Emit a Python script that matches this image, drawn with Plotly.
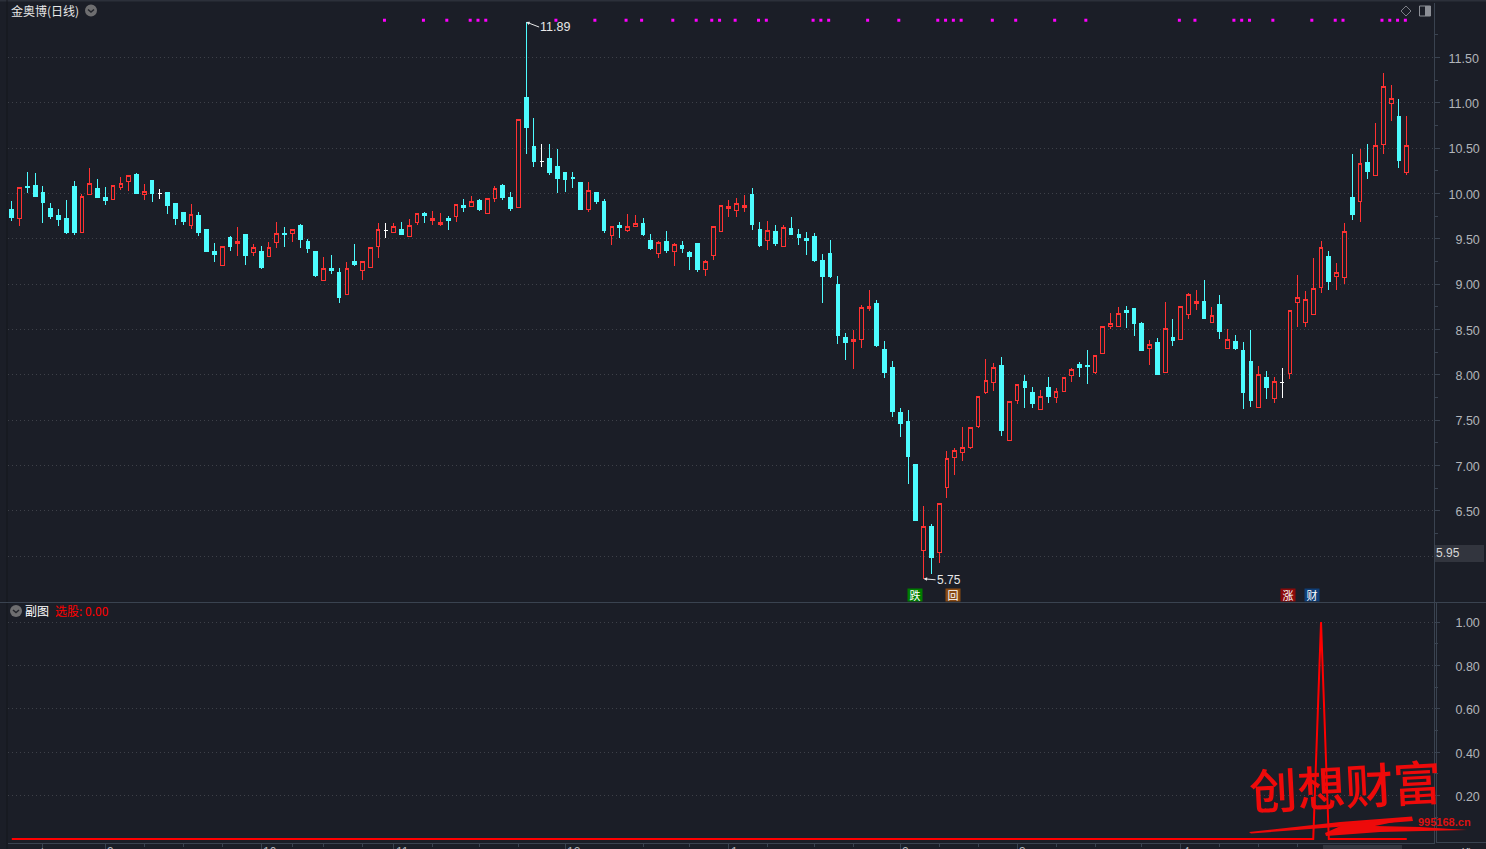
import plotly.graph_objects as go

W, H = 1486, 849
BG = "#1b1e27"
AXIS = "#3a4350"
GRID = "#3e4149"
TICKC = "#b2b5ba"
CYAN = "#4dfcff"
RED = "#ff3232"
CJK = "Noto Sans CJK SC"
LAT = "Liberation Sans"

opens = [
    9.82,9.72,10.08,10.09,10.01,9.83,9.76,9.72,10.08,9.57,
    9.99,10.05,9.96,9.93,10.06,10.13,10.21,9.99,10.14,10.00,
    10.01,9.89,9.79,9.65,9.76,9.60,9.36,9.21,9.51,9.45,
    9.55,9.35,9.36,9.30,9.46,9.56,9.56,9.65,9.47,9.36,
    9.04,9.17,9.13,8.88,9.25,9.15,9.18,9.41,9.59,9.57,
    9.60,9.53,9.68,9.78,9.70,9.66,9.72,9.74,9.87,9.86,
    9.92,9.78,9.94,10.09,9.95,9.84,11.06,10.52,10.35,10.39,
    10.30,10.23,10.18,10.12,9.82,10.01,9.91,9.54,9.65,9.59,
    9.63,9.67,9.48,9.34,9.47,9.36,9.43,9.35,9.45,9.16,
    9.32,9.58,9.83,9.81,9.84,9.99,9.60,9.48,9.58,9.42,
    9.61,9.55,9.50,9.53,9.26,9.34,9.00,8.41,8.37,8.39,
    8.73,8.79,8.28,8.08,7.58,7.48,7.01,6.06,6.33,6.04,
    6.76,7.09,7.14,7.20,7.43,7.80,7.91,8.10,7.28,7.72,
    7.93,7.81,7.62,7.86,7.75,7.82,7.99,8.11,8.10,8.03,
    8.24,8.53,8.53,8.71,8.73,8.56,8.29,8.36,8.02,8.41,
    8.39,8.66,8.79,8.81,8.58,8.78,8.29,8.37,8.27,8.15,
    7.64,7.97,7.74,7.92,8.01,8.80,8.58,8.66,8.96,9.30,
    9.08,9.07,9.96,9.91,10.34,10.20,10.54,10.99,10.85,10.23,
]
highs = [
    9.92,10.07,10.24,10.22,10.08,9.89,9.83,9.93,10.14,9.99,
    10.28,10.16,10.07,10.09,10.18,10.20,10.22,10.10,10.15,10.05,
    10.01,9.89,9.79,9.88,9.79,9.60,9.45,9.42,9.53,9.63,
    9.55,9.44,9.42,9.46,9.68,9.63,9.61,9.66,9.50,9.36,
    9.30,9.32,9.18,9.24,9.44,9.25,9.40,9.67,9.67,9.67,
    9.69,9.72,9.78,9.80,9.81,9.78,9.75,9.88,9.94,9.97,
    9.94,9.94,10.08,10.10,10.02,10.81,11.89,10.83,10.55,10.55,
    10.49,10.23,10.24,10.12,10.13,10.02,9.94,9.64,9.69,9.77,
    9.76,9.73,9.55,9.47,9.59,9.45,9.48,9.37,9.45,9.27,
    9.64,9.87,9.93,9.95,9.98,10.06,9.69,9.70,9.65,9.65,
    9.74,9.61,9.58,9.56,9.33,9.49,9.09,8.46,8.49,8.77,
    8.94,8.83,8.37,8.15,7.63,7.61,7.02,6.55,6.35,6.59,
    7.16,7.19,7.42,7.42,7.77,8.17,8.13,8.20,7.71,7.90,
    8.00,7.86,7.83,7.97,7.85,7.97,8.07,8.14,8.27,8.21,
    8.54,8.68,8.75,8.76,8.73,8.58,8.38,8.41,8.80,8.61,
    8.75,8.90,8.93,9.05,8.75,8.88,8.51,8.44,8.36,8.49,
    8.10,8.04,7.97,8.08,8.71,9.10,8.92,9.29,9.48,9.37,
    9.23,9.67,10.44,10.49,10.55,10.78,11.33,11.20,11.04,10.85,
]
lows = [
    9.70,9.64,10.01,9.96,9.67,9.72,9.64,9.55,9.54,9.57,
    9.99,9.95,9.87,9.93,10.04,10.03,10.00,9.93,9.90,9.94,
    9.77,9.65,9.65,9.61,9.53,9.35,9.24,9.21,9.36,9.31,
    9.21,9.31,9.17,9.30,9.40,9.41,9.46,9.40,9.34,9.08,
    9.04,9.11,8.79,8.88,9.20,9.04,9.18,9.29,9.51,9.57,
    9.55,9.53,9.65,9.67,9.65,9.64,9.60,9.69,9.80,9.86,
    9.81,9.77,9.91,9.93,9.81,9.84,10.44,10.29,10.29,10.20,
    10.01,10.02,10.06,9.82,9.80,9.88,9.56,9.43,9.51,9.58,
    9.63,9.53,9.38,9.29,9.34,9.20,9.34,9.16,9.13,9.09,
    9.27,9.58,9.74,9.74,9.80,9.60,9.41,9.38,9.42,9.41,
    9.54,9.43,9.32,9.24,8.79,9.07,8.34,8.16,8.06,8.30,
    8.70,8.31,7.96,7.53,7.31,6.80,6.39,5.75,5.80,5.92,
    6.64,6.90,7.05,7.18,7.41,7.79,7.82,7.32,7.28,7.68,
    7.63,7.63,7.62,7.69,7.69,7.82,7.92,7.98,7.90,8.01,
    8.24,8.51,8.53,8.52,8.43,8.26,8.11,8.00,8.02,8.32,
    8.39,8.62,8.71,8.62,8.58,8.39,8.29,8.27,7.62,7.65,
    7.64,7.73,7.69,7.74,7.95,8.53,8.53,8.66,8.90,8.94,
    8.94,9.00,9.71,9.69,10.16,10.20,10.44,10.80,10.28,10.20,
]
closes = [
    9.73,10.06,10.06,9.97,9.90,9.74,9.71,9.57,9.57,9.97,
    10.11,9.96,9.92,10.09,10.11,10.20,10.00,10.02,10.00,10.00,
    9.87,9.72,9.69,9.77,9.57,9.36,9.33,9.42,9.41,9.47,
    9.31,9.40,9.18,9.40,9.56,9.55,9.60,9.49,9.39,9.09,
    9.17,9.15,8.85,9.17,9.22,9.25,9.40,9.60,9.59,9.63,
    9.55,9.65,9.78,9.76,9.72,9.68,9.70,9.88,9.84,9.91,
    9.82,9.94,10.05,9.95,9.83,10.81,10.73,10.35,10.35,10.23,
    10.16,10.15,10.17,9.82,10.03,9.91,9.59,9.64,9.62,9.63,
    9.67,9.55,9.39,9.46,9.37,9.44,9.39,9.30,9.16,9.25,
    9.63,9.87,9.86,9.89,9.87,9.66,9.43,9.59,9.45,9.62,
    9.55,9.51,9.48,9.26,9.08,9.08,8.43,8.36,8.39,8.74,
    8.75,8.32,8.02,7.60,7.46,7.10,6.39,6.33,5.99,6.58,
    7.08,7.17,7.20,7.42,7.76,7.94,8.08,7.38,7.71,7.89,
    7.86,7.68,7.76,7.76,7.82,7.97,8.06,8.08,8.09,8.21,
    8.53,8.56,8.68,8.69,8.56,8.27,8.33,8.00,8.51,8.38,
    8.75,8.89,8.81,8.62,8.65,8.48,8.39,8.29,7.81,7.72,
    8.00,7.86,7.93,7.92,8.71,8.85,8.83,8.95,9.40,9.03,
    9.13,9.58,9.77,10.33,10.24,10.53,11.18,11.05,10.36,10.53,
]
bars = list(range(len(opens)))

signal_bars = [48,53,56,59,60,61,70,75,79,81,85,88,90,91,93,96,97,103,104,105,
               110,114,119,120,121,122,126,129,134,138,150,152,157,158,159,162,
               167,170,171,176,177,178,179]
signal_level = 11.91

pick_values = [0.0] * 168 + [1.0] + [0.0] * 11

price_ticks = [6.0, 6.5, 7.0, 7.5, 8.0, 8.5, 9.0, 9.5, 10.0, 10.5, 11.0, 11.5]
price_labels = ["", "\u20076.50", "\u20077.00", "\u20077.50", "\u20078.00", "\u20078.50",
                "\u20079.00", "\u20079.50", "10.00", "10.50", "11.00", "11.50"]
price_minor = [6.25, 6.75, 7.25, 7.75, 8.25, 8.75, 9.25, 9.75, 10.25, 10.75, 11.25, 11.75]
pick_ticks = [0.2, 0.4, 0.6, 0.8, 1.0]
pick_labels = ["\u20070.20", "\u20070.40", "\u20070.60", "\u20070.80", "\u20071.00"]
pick_minor = [0.1, 0.3, 0.5, 0.7, 0.9]

month_bars = [4, 12, 32, 49, 71, 92, 114, 129, 150]
month_labels = ["", "9", "10", "11", "12", "1", "2", "3", "4"]
minor_bars = [17, 22, 27, 36, 40, 45, 54, 60, 65, 81, 87, 97, 103, 108, 119, 124,
              134, 139, 145, 155, 160, 165]


def px(v):
    return v / W


def py(v):
    return 1 - v / H


red_i = [i for i in bars if closes[i] > opens[i]]
cyan_i = [i for i in bars if closes[i] < opens[i]]
white_i = [i for i in bars if closes[i] == opens[i]]


def candle(idx, line_color, fill):
    return go.Candlestick(
        x=idx,
        open=[opens[i] for i in idx], high=[highs[i] for i in idx],
        low=[lows[i] for i in idx], close=[closes[i] for i in idx],
        increasing=dict(line=dict(color=line_color, width=1), fillcolor=fill),
        decreasing=dict(line=dict(color=line_color, width=1), fillcolor=fill),
        whiskerwidth=0, hoverinfo="skip", showlegend=False, xaxis="x", yaxis="y",
    )


fig = go.Figure()
fig.add_trace(candle(red_i, RED, BG))
fig.add_trace(candle(cyan_i, CYAN, CYAN))
fig.add_trace(candle(white_i, "#ffffff", "#ffffff"))
fig.add_trace(go.Scatter(
    x=signal_bars, y=[signal_level] * len(signal_bars), mode="markers",
    marker=dict(symbol="square", size=3, color="#ff00ff", line=dict(width=0)),
    hoverinfo="skip", showlegend=False, xaxis="x3", yaxis="y",
))
fig.add_trace(go.Scatter(
    x=bars, y=pick_values, mode="lines", line=dict(color="#ff0000", width=2),
    hoverinfo="skip", showlegend=False, xaxis="x2", yaxis="y2",
))

xrange = [-0.4875, 182.496]
signal_xrange = [-0.3075, 182.676]
anns = []


def text(x, y, s, color="#e8e8e8", size=12, family=CJK, anchor="left", xref="paper", yref="paper",
         yanchor="middle", **kw):
    anns.append(dict(x=x, y=y, xref=xref, yref=yref, text=s, showarrow=False, xanchor=anchor,
                     yanchor=yanchor, font=dict(color=color, size=size, family=family),
                     borderpad=0, **kw))


def extreme(bar, value, s, ax, ay, size):
    anns.append(dict(x=bar, y=value, xref="x", yref="y", axref="pixel", ayref="pixel", ax=ax, ay=ay,
                     text=s, showarrow=True, arrowcolor="#e8e8e8", arrowwidth=1, arrowhead=2,
                     arrowsize=0.7, xanchor="left", yanchor="middle",
                     font=dict(color="#e8e8e8", size=size, family=LAT), borderpad=0))


text(px(10), py(11), "金奥博(日线)")
text(px(24), py(610), "副图", color="#ffffff")
text(px(54), py(610), "选股: 0.00", color="#ff0000")
extreme(66, 11.89, "11.89", 13, 5, 12.5)
extreme(117, 5.75, "5.75", 12, 1, 12)
text(px(1435), py(553), "5.95", color="#d8d8d8", family=LAT)


def badge(bar, s, bg, shift=0):
    anns.append(dict(x=bar, y=py(594.5), xref="x", yref="paper", text=s, showarrow=False,
                     xanchor="center", yanchor="middle", width=14, height=12, bgcolor=bg,
                     xshift=shift, font=dict(color="#ffffff", size=11, family=CJK), borderpad=0))


badge(116, "跌", "#007d00", -1)
badge(121, "回", "#8a4a12", -2)
badge(164, "涨", "#8c0a0a", -2)
badge(167, "财", "#0f3f78", -1)

text(px(11), py(843.5), "2023年", color=TICKC, family=CJK, yanchor="top")
for b, lab in zip(month_bars[1:], month_labels[1:]):
    text(b, py(843.5), lab, color=TICKC, family=LAT, xref="x2", yanchor="top", xshift=1)
text(px(1325), py(843.5), "2024/05/17/五", color="#e0e0e0", family=CJK, yanchor="top")
text(px(1447), py(843.5), "日线", color="#e0e0e0", yanchor="top")

# watermark
text(px(1345), py(784), "创想财富", color="#ee0a0a", size=48, anchor="center", textangle=-3)
anns[-1]["font"]["weight"] = 500
text(px(1417), py(821.5), "995168.cn", color="#dd1111", size=11, family=LAT)
anns[-1]["font"]["weight"] = 700


def rect(x0, y0, x1, y1, color, line=None):
    return dict(type="rect", xref="paper", yref="paper", x0=px(x0), x1=px(x1), y0=py(y0), y1=py(y1),
                fillcolor=color, line=dict(width=0) if line is None else line, layer="below")


def path(points, stroke=None, fill=None, width=1, close=False, layer="above"):
    d = "M" + " L".join(f"{px(a):.5f},{py(b):.5f}" for a, b in points) + (" Z" if close else "")
    return dict(type="path", xref="paper", yref="paper", path=d, fillcolor=fill,
                line=dict(width=width if stroke else 0, color=stroke), layer=layer)


def circle(cx, cy, r, color):
    return dict(type="circle", xref="paper", yref="paper", x0=px(cx - r), x1=px(cx + r),
                y0=py(cy + r), y1=py(cy - r), fillcolor=color, line=dict(width=0))


shapes = [
    rect(0, 0, 1486, 1.5, "#2c303a"),
    rect(6.5, 0, 7.5, 849, "#14161c"),
    rect(0, 602, 1486, 603, AXIS),
    rect(1436, 603, 1437, 843, AXIS),
    rect(1437, 842, 1486, 843, AXIS),
    rect(1435, 545, 1484, 562, "#32353e"),
    rect(1323, 845, 1402, 849, "#32353e"),
    circle(91, 10.5, 6, "#6e6e70"),
    path([(88, 9.5), (91, 12), (94, 9.5)], stroke="#23252b", width=1.5),
    circle(16, 611, 6, "#6e6e70"),
    path([(13, 610), (16, 612.5), (19, 610)], stroke="#23252b", width=1.5),
    path([(1406, 6), (1411, 11), (1406, 16), (1401, 11)], stroke="#7c7f86", close=True),
    dict(type="rect", xref="paper", yref="paper", x0=px(1419.5), x1=px(1430.5), y0=py(16), y1=py(6),
         line=dict(color="#8c8f96", width=1), fillcolor=BG),
    rect(1425, 6, 1430.5, 16, "#8c8f96"),
    # watermark brush strokes
    path([(1249, 832), (1340, 822), (1412, 816.5), (1413, 821), (1350, 826), (1251, 833.5)],
         fill="#ee0a0a", close=True),
    path([(1325, 833), (1345, 824), (1413, 818), (1375, 826), (1420, 827), (1467, 830),
          (1380, 832), (1326, 836)], fill="#ee0a0a", close=True),
]
shapes[13]["layer"] = "above"

fig.update_layout(
    width=W, height=H, margin=dict(l=0, r=0, t=0, b=0), autosize=False,
    paper_bgcolor=BG, plot_bgcolor=BG, showlegend=False, dragmode=False,
    boxmode="overlay", boxgap=0.32,
    font=dict(family=LAT, size=12, color=TICKC),
    annotations=anns, shapes=shapes,
    xaxis=dict(domain=[px(8), px(1434)], range=xrange, anchor="y", showgrid=False, zeroline=False,
               showticklabels=False, ticks="", showline=False, rangeslider=dict(visible=False),
               type="linear", fixedrange=True),
    xaxis3=dict(domain=[px(8), px(1434)], range=signal_xrange, anchor="y", overlaying="x", visible=False,
                type="linear", fixedrange=True),
    yaxis=dict(domain=[py(602), py(3)], range=[5.494, 12.10], anchor="x", side="right",
               tickmode="array", tickvals=price_ticks, ticktext=price_labels,
               ticks="outside", ticklen=5, tickwidth=1, tickcolor=AXIS,
               showline=True, linecolor=AXIS, linewidth=1, zeroline=False,
               showgrid=True, gridcolor=GRID, gridwidth=1, griddash="1px,3px",
               tickfont=dict(family=LAT, size=12.5, color=TICKC), ticklabelstandoff=6,
               ticklabelshift=1,
               minor=dict(tickmode="array", tickvals=price_minor, ticks="outside", ticklen=3,
                          tickwidth=1, tickcolor=AXIS, showgrid=False),
               fixedrange=True),
    xaxis2=dict(domain=[px(8), px(1434)], range=xrange, anchor="y2", showgrid=False, zeroline=False,
                showticklabels=False, tickmode="array", tickvals=month_bars, ticktext=month_labels,
                ticks="outside", ticklen=5, tickwidth=1, tickcolor=AXIS,
                showline=True, linecolor=AXIS, linewidth=1, type="linear",
                minor=dict(tickmode="array", tickvals=minor_bars, ticks="outside", ticklen=3,
                           tickwidth=1, tickcolor=AXIS, showgrid=False),
                fixedrange=True),
    yaxis2=dict(domain=[py(843), py(603)], range=[-0.0184, 1.0876], anchor="x2", side="right",
                tickmode="array", tickvals=pick_ticks, ticktext=pick_labels,
                ticks="outside", ticklen=5, tickwidth=1, tickcolor=AXIS,
                showline=True, linecolor=AXIS, linewidth=1, zeroline=False,
                showgrid=True, gridcolor=GRID, gridwidth=1, griddash="1px,3px",
                tickfont=dict(family=LAT, size=12.5, color=TICKC), ticklabelstandoff=6,
                ticklabelshift=1,
                minor=dict(tickmode="array", tickvals=pick_minor, ticks="outside", ticklen=3,
                           tickwidth=1, tickcolor=AXIS, showgrid=False),
                fixedrange=True),
)

fig.write_html(
    "out.html",
    config=dict(displayModeBar=False, staticPlot=True),
    post_script=f"document.body.style.margin='0';document.body.style.background='{BG}';"
                "document.documentElement.style.overflow='hidden';"
                "var s=document.createElement('style');"
                "s.textContent='.boxlayer path{shape-rendering:crispEdges !important}';"
                "document.head.appendChild(s);",
)
